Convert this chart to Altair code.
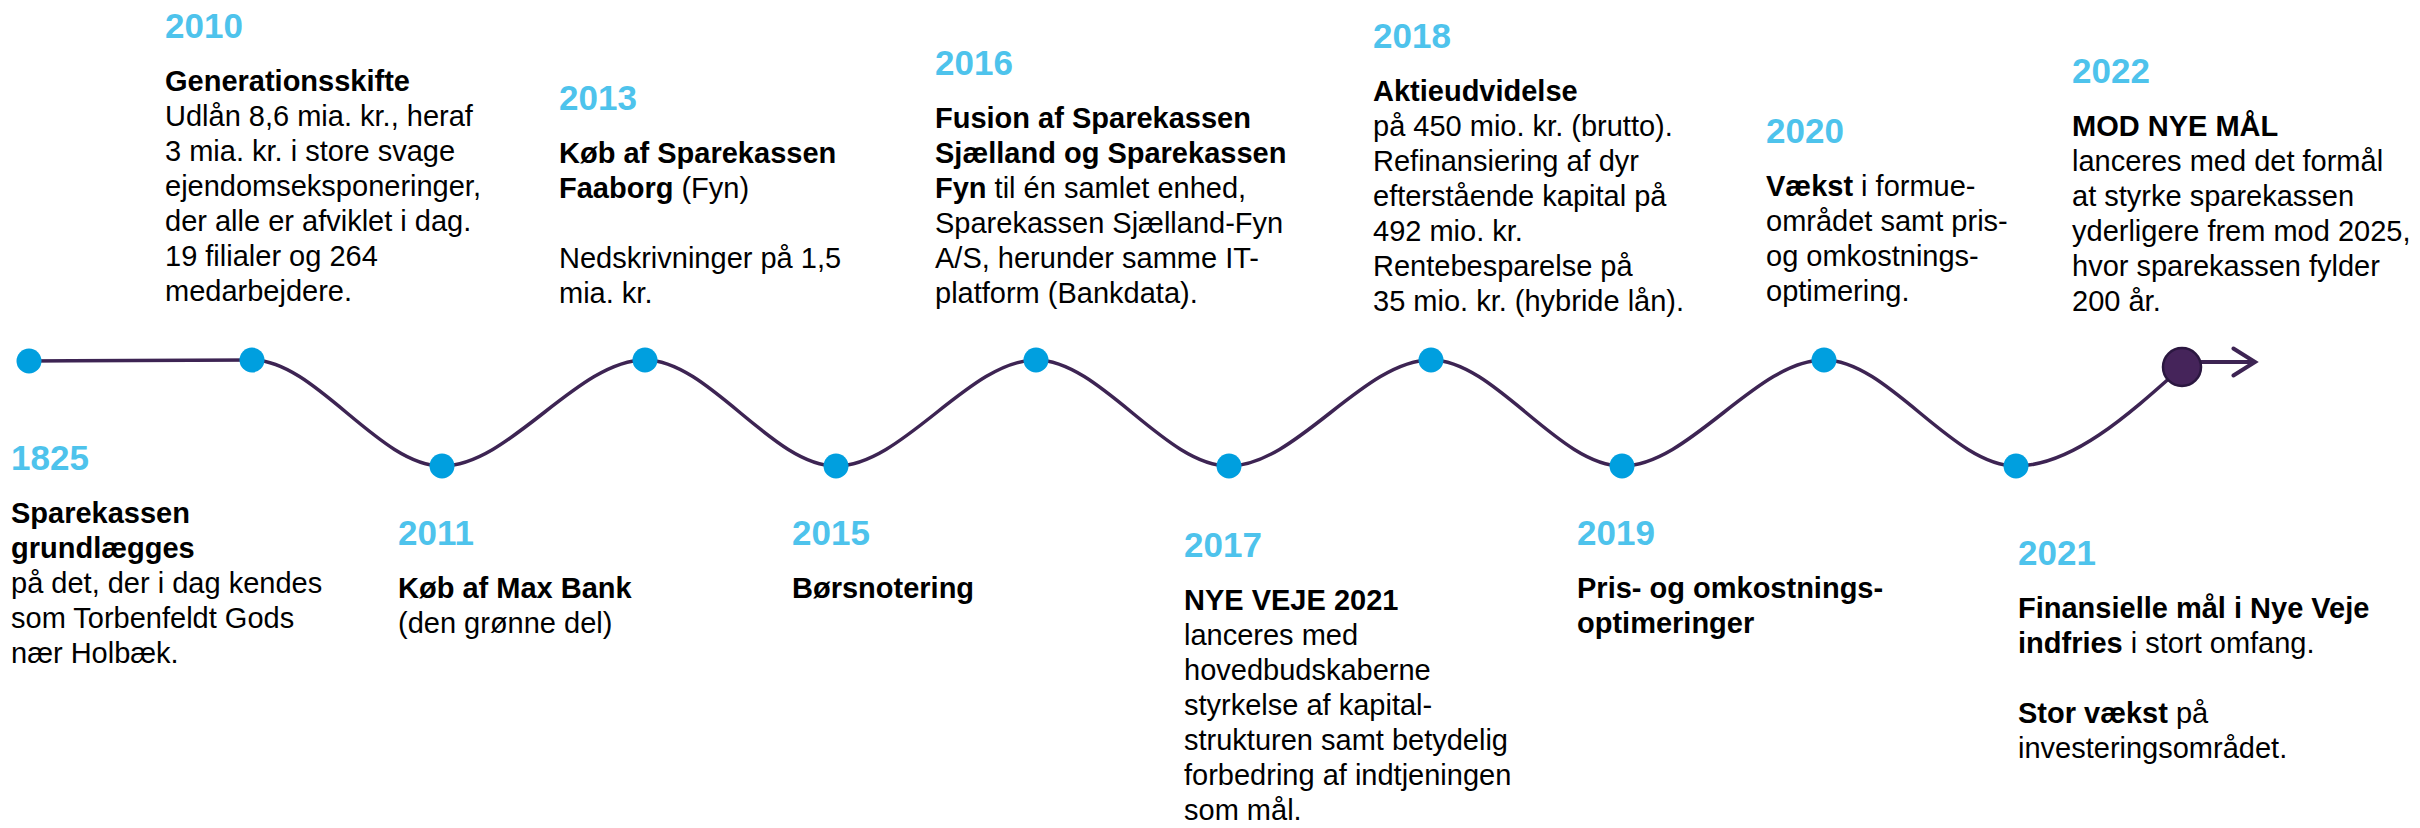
import altair as alt
import pandas as pd
import re

# ---------------- data ----------------
years = ["1825", "2010", "2011", "2013", "2015", "2016",
         "2017", "2018", "2019", "2020", "2021", "2022"]

# marker positions along the timeline (page px)
dot_x = [29, 252, 442, 645, 836, 1036, 1229, 1431, 1622, 1824, 2016, 2182]
dot_y = [361, 360, 466, 360, 466, 360, 466, 360, 466, 360, 466, 367]
dot_kind = ["event"] * 11 + ["now"]

# label anchors (left edge of text block, baseline of the year label)
label_x = [11, 165, 398, 559, 792, 935, 1184, 1373, 1577, 1766, 2018, 2072]
year_y = [470, 38, 545, 110, 545, 75, 557, 48, 545, 143, 565, 83]

texts = [
    ["**Sparekassen**", "**grundlægges**", "på det, der i dag kendes",
     "som Torbenfeldt Gods", "nær Holbæk."],
    ["**Generationsskifte**", "Udlån 8,6 mia. kr., heraf", "3 mia. kr. i store svage",
     "ejendomseksponeringer,", "der alle er afviklet i dag.", "19 filialer og 264",
     "medarbejdere."],
    ["**Køb af Max Bank**", "(den grønne del)"],
    ["**Køb af Sparekassen**", "**Faaborg** (Fyn)", "", "Nedskrivninger på 1,5", "mia. kr."],
    ["**Børsnotering**"],
    ["**Fusion af Sparekassen**", "**Sjælland og Sparekassen**", "**Fyn** til én samlet enhed,",
     "Sparekassen Sjælland-Fyn", "A/S, herunder samme IT-", "platform (Bankdata)."],
    ["**NYE VEJE 2021**", "lanceres med", "hovedbudskaberne", "styrkelse af kapital-",
     "strukturen samt betydelig", "forbedring af indtjeningen", "som mål."],
    ["**Aktieudvidelse**", "på 450 mio. kr. (brutto).", "Refinansiering af dyr",
     "efterstående kapital på", "492 mio. kr.", "Rentebesparelse på",
     "35 mio. kr. (hybride lån)."],
    ["**Pris- og omkostnings-**", "**optimeringer**"],
    ["**Vækst** i formue-", "området samt pris-", "og omkostnings-", "optimering."],
    ["**Finansielle mål i Nye Veje**", "**indfries** i stort omfang.", "",
     "**Stor vækst** på", "investeringsområdet."],
    ["**MOD NYE MÅL**", "lanceres med det formål", "at styrke sparekassen",
     "yderligere frem mod 2025,", "hvor sparekassen fylder", "200 år."],
]

# ---------------- styling ----------------
FONT = "Liberation Sans"
BODY = 29
YEARSIZE = 35
LINE_H = 35
GAP = 53
PURPLE = "#3D2453"
BLUE = "#009FDF"
LIGHTBLUE = "#4EC3EC"

# Arial/Liberation Sans Bold advance widths (per 1000 em) for bold run widths
BOLD_W = {"F": 611, "a": 556, "b": 611, "o": 611, "r": 389, "g": 611, " ": 278,
          "y": 556, "n": 611, "V": 667, "æ": 889, "k": 556, "s": 556, "t": 333,
          "i": 278, "d": 611, "f": 333, "e": 556, "S": 667, "v": 556}


def bold_width(s):
    return sum(BOLD_W.get(c, 600) for c in s) * BODY / 1000.0


rows = []
for i, yr in enumerate(years):
    rows.append(dict(x=label_x[i], y=year_y[i], text=yr, style="year"))
    for j, line in enumerate(texts[i]):
        if not line:
            continue
        yy = year_y[i] + GAP + LINE_H * j
        parts = re.split(r"(\*\*.+?\*\*)", line)
        off = 0.0
        for p in parts:
            if not p:
                continue
            if p.startswith("**"):
                t = p[2:-2]
                rows.append(dict(x=label_x[i] + off, y=yy, text=t, style="bold"))
                off += bold_width(t)
            else:
                lead = len(p) - len(p.lstrip(" "))
                off += lead * 278 * BODY / 1000.0
                rows.append(dict(x=label_x[i] + off, y=yy, text=p.strip(), style="normal"))
text_df = pd.DataFrame(rows)

dots_df = pd.DataFrame({"x": dot_x, "y": dot_y, "kind": dot_kind, "year": years})
arrow_df = pd.DataFrame({"x": [dot_x[-1]], "x2": [dot_x[-1] + 73], "y": [dot_y[-1] - 5]})

W, H = 2404, 812
xs = alt.Scale(domain=[8, 8 + W], nice=False, zero=False)
ys = alt.Scale(domain=[8, 8 + H], nice=False, zero=False, reverse=True)
X = alt.X("x:Q", scale=xs, axis=None)
Y = alt.Y("y:Q", scale=ys, axis=None)

curve = alt.Chart(dots_df).mark_line(
    interpolate="monotone", color=PURPLE, strokeWidth=3.5
).encode(x=X, y=Y, order="x:Q")

arrow_line = alt.Chart(arrow_df).mark_rule(color=PURPLE, strokeWidth=4).encode(
    x=X, x2="x2:Q", y=Y)

arrow_head = alt.Chart(arrow_df).mark_point(
    shape="M-1.6,-1L0,0L-1.6,1", size=729, filled=False, color=PURPLE,
    strokeWidth=4, strokeCap="round", strokeJoin="miter", opacity=1
).encode(x=alt.X("x2:Q", scale=xs, axis=None), y=Y)

blue_dots = alt.Chart(dots_df).transform_filter("datum.kind == 'event'").mark_circle(
    size=625, color=BLUE, opacity=1).encode(x=X, y=Y)

final_dot = alt.Chart(dots_df).transform_filter("datum.kind == 'now'").mark_point(
    shape="circle", size=1444, filled=True, fill="#45245A", stroke="#2B1740",
    strokeWidth=2.5, opacity=1).encode(x=X, y=Y)

year_text = alt.Chart(text_df).transform_filter("datum.style == 'year'").mark_text(
    align="left", baseline="alphabetic", font=FONT, fontSize=YEARSIZE,
    fontWeight="bold", color=LIGHTBLUE).encode(x=X, y=Y, text="text:N")

bold_text = alt.Chart(text_df).transform_filter("datum.style == 'bold'").mark_text(
    align="left", baseline="alphabetic", font=FONT, fontSize=BODY,
    fontWeight="bold", color="#000000").encode(x=X, y=Y, text="text:N")

normal_text = alt.Chart(text_df).transform_filter("datum.style == 'normal'").mark_text(
    align="left", baseline="alphabetic", font=FONT, fontSize=BODY,
    fontWeight="normal", color="#000000").encode(x=X, y=Y, text="text:N")

chart = alt.layer(
    curve, arrow_line, arrow_head, blue_dots, final_dot,
    year_text, bold_text, normal_text
).properties(
    width=W, height=H, padding=0, autosize="none", background="white"
).configure_view(strokeWidth=0)

chart.save("out.html", embed_options={"renderer": "svg", "actions": False})
